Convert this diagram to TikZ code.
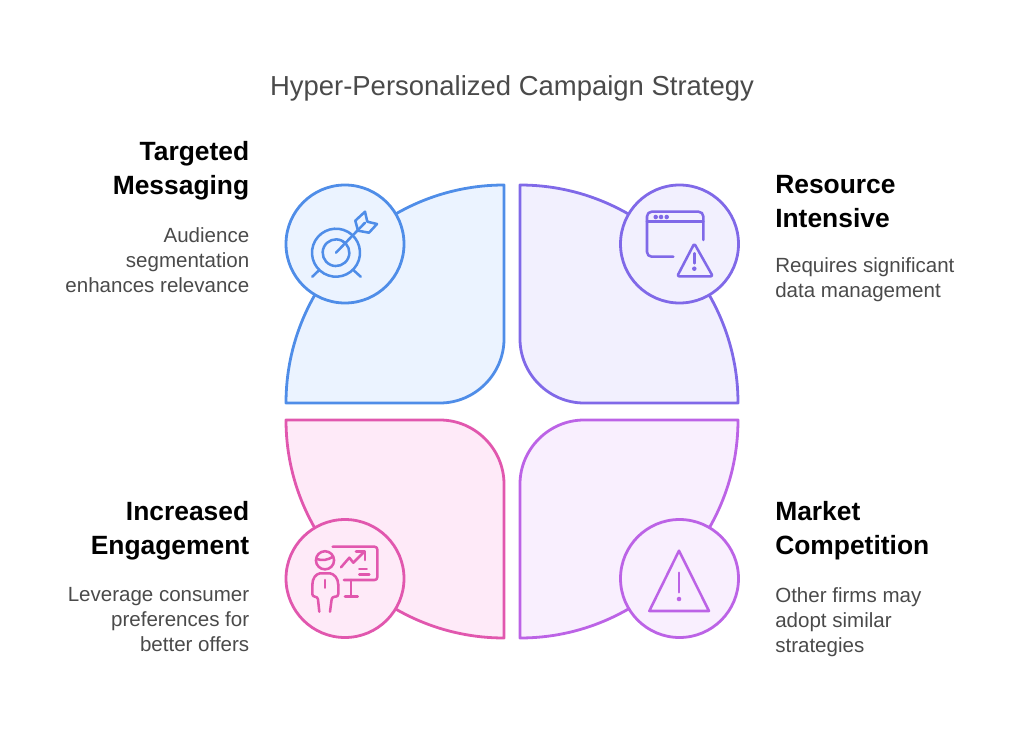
\documentclass[tikz,border=0pt]{standalone}
\usepackage{fontspec}
\setmainfont{Liberation Sans}
\usepackage{tikz}
\usetikzlibrary{positioning}
\definecolor{blueline}{HTML}{4F8DE8}
\definecolor{bluefill}{HTML}{EBF3FF}
\definecolor{purpleline}{HTML}{8069E8}
\definecolor{purplefill}{HTML}{F2F0FE}
\definecolor{pinkline}{HTML}{E157AE}
\definecolor{pinkfill}{HTML}{FEEAF8}
\definecolor{violetline}{HTML}{BC63E6}
\definecolor{violetfill}{HTML}{F9EFFE}
\definecolor{greytext}{HTML}{4A4A4A}
\tikzstyle{petal} = [line width=2.1pt, line join=round]
\tikzstyle{badge} = [circle, line width=2.1pt, minimum size=88.5pt, inner sep=0pt]
\tikzstyle{icon} = [line width=1.9pt, line cap=round, line join=round]
\tikzstyle{heading} = [font=\fontsize{19.8}{25.5}\selectfont\bfseries, text=black, inner sep=0pt]
\tikzstyle{descr} = [font=\fontsize{15.4}{18.75}\selectfont, text=greytext, inner sep=0pt]
\begin{document}
\begin{tikzpicture}[x=0.75pt,y=-0.75pt]
	\useasboundingbox (0,0) rectangle (1024,731);
	\node [font=\fontsize{20.6}{24}\selectfont, text=greytext, inner sep=0pt] at (512,88) (title) {Hyper-Personalized Campaign Strategy};
	% petals
	\draw [petal, draw=blueline, fill=bluefill] (286,403) .. controls (286,283) and (384,185) .. (504,185) -- (504,339) .. controls (504,374) and (475,403) .. (440,403) -- cycle;
	\draw [petal, draw=purpleline, fill=purplefill] (738,403) .. controls (738,283) and (640,185) .. (520,185) -- (520,339) .. controls (520,374) and (549,403) .. (584,403) -- cycle;
	\draw [petal, draw=pinkline, fill=pinkfill] (286,420) .. controls (286,540) and (384,638) .. (504,638) -- (504,484) .. controls (504,449) and (475,420) .. (440,420) -- cycle;
	\draw [petal, draw=violetline, fill=violetfill] (738,420) .. controls (738,540) and (640,638) .. (520,638) -- (520,484) .. controls (520,449) and (549,420) .. (584,420) -- cycle;
	% badges
	\node [badge, draw=blueline, fill=bluefill] at (345,244) (target) {};
	\node [badge, draw=purpleline, fill=purplefill] at (679.5,244) (resource) {};
	\node [badge, draw=pinkline, fill=pinkfill] at (345,578.5) (presenter) {};
	\node [badge, draw=violetline, fill=violetfill] at (679.5,578.5) (warning) {};
	% target icon
	\draw [icon, draw=blueline] (336,252.7) ++(60:18pt) arc (60:-328:18pt);
	\draw [icon, draw=blueline] (336,252.7) ++(65:10pt) arc (65:-340:10pt);
	\draw [icon, draw=blueline] (336,252.7) -- (365,222.7);
	\draw [icon, draw=blueline] (355.3,220.7) -- (365,211.7) -- (367.3,221.7) -- (377,224) -- (369,232.7) -- (358,230.7) -- cycle;
	\draw [icon, draw=blueline] (319.3,270) -- (312.3,276.7);
	\draw [icon, draw=blueline] (353.3,270) -- (360.7,276.7);
	% window icon
	\draw [icon, draw=purpleline, rounded corners=3.5pt] (703.3,240) -- (703.3,211.7) -- (647,211.7) -- (647,256.7) -- (673.3,256.7);
	\draw [icon, draw=purpleline] (647,221.7) -- (703.3,221.7);
	\foreach \dotx in {655.7,661,666.7}
		\fill [purpleline] (\dotx,217) circle (1.7pt);
	\draw [icon, draw=purpleline, rounded corners=1.5pt] (694.3,243.5) -- (677.2,276.3) -- (712.8,276.3) -- cycle;
	\draw [icon, draw=purpleline] (694.3,253.3) -- (694.3,263.3);
	\fill [purpleline] (694.3,268.7) circle (1.7pt);
	% presenter icon
	\draw [icon, draw=pinkline] (325,560.3) circle (6.8pt);
	\draw [icon, draw=pinkline] (316.7,559) .. controls (322,561) and (328,560) .. (333,556.7);
	\draw [icon, draw=pinkline, rounded corners=2pt] (319.3,611.7) -- (317.7,596.7) -- (312.3,596.7) -- (312.3,585);
	\draw [icon, draw=pinkline] (312.3,585) .. controls (312.3,578) and (316,574) .. (320,573.3) -- (330,573.3) .. controls (334,574) and (338.3,578) .. (338.3,585);
	\draw [icon, draw=pinkline, rounded corners=2pt] (338.3,585) -- (338.3,596.7) -- (332,596.7) -- (330,611.7);
	\draw [icon, draw=pinkline] (325,580) -- (325,587.7);
	\draw [icon, draw=pinkline, rounded corners=2pt] (332.7,546.7) -- (377.3,546.7) -- (377.3,580) -- (344,580);
	\draw [icon, draw=pinkline] (351,580) -- (351,596.7);
	\draw [icon, draw=pinkline] (345,596.7) -- (357.7,596.7);
	\draw [icon, draw=pinkline] (341,567.3) -- (349.3,557.7) -- (353.3,562.7) -- (364.3,551.7);
	\draw [icon, draw=pinkline] (356,551.7) -- (365,551.7) -- (365,560);
	\draw [icon, draw=pinkline] (359.3,569) -- (366.7,569);
	\draw [icon, draw=pinkline] (359.3,574.3) -- (369.3,574.3);
	% warning icon
	\draw [icon, draw=violetline] (679,550.7) -- (649.3,611) -- (709,611) -- cycle;
	\draw [icon, draw=violetline] (679,572.7) -- (679,592.3);
	\fill [violetline] (679,599) circle (1.7pt);
	% texts
	\node [heading, align=right, anchor=north east] at (249.5,141.5) (targetHead) {Targeted\\Messaging};
	\node [descr, align=right, anchor=north east] at (249.5,227.5) (targetText) {Audience\\segmentation\\enhances relevance};
	\node [heading, align=left, anchor=north west] at (775,175.5) (resourceHead) {Resource\\Intensive};
	\node [descr, align=left, anchor=north west] at (775,257.5) (resourceText) {Requires significant\\data management};
	\node [heading, align=right, anchor=north east] at (249.5,501.5) (presenterHead) {Increased\\Engagement};
	\node [descr, align=right, anchor=north east] at (249.5,587.5) (presenterText) {Leverage consumer\\preferences for\\better offers};
	\node [heading, align=left, anchor=north west] at (775,501.5) (warningHead) {Market\\Competition};
	\node [descr, align=left, anchor=north west] at (775,587.5) (warningText) {Other firms may\\adopt similar\\strategies};
\end{tikzpicture}
\end{document}
